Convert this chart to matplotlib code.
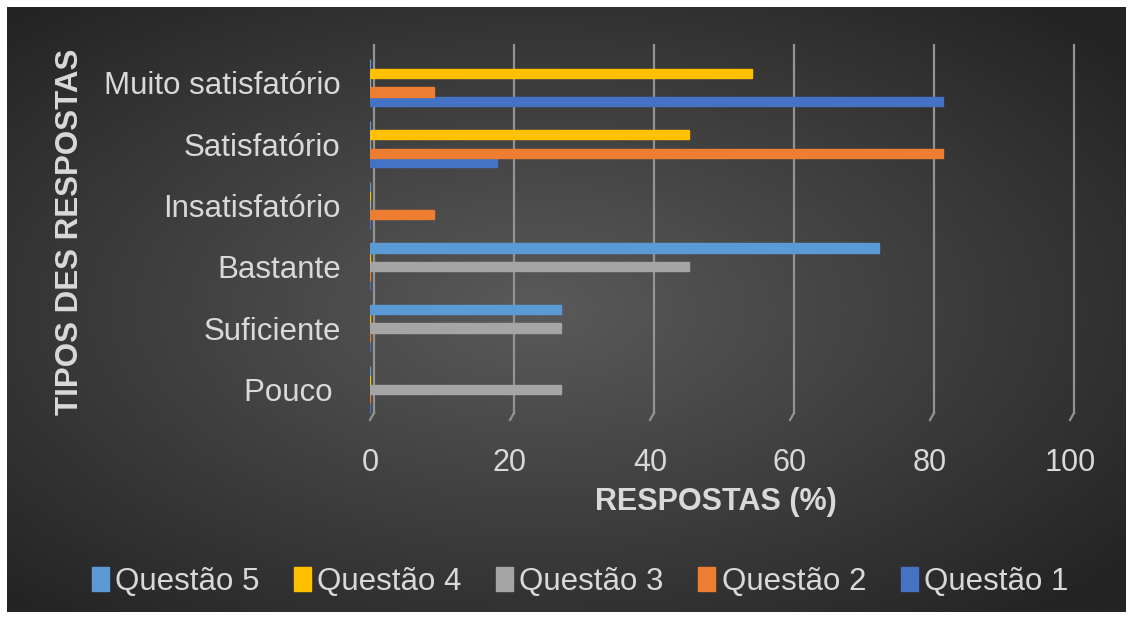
import matplotlib
matplotlib.use('Agg')
import matplotlib.pyplot as plt
import matplotlib.transforms as mtransforms
import numpy as np

plt.rcParams['font.family'] = ['Liberation Sans', 'DejaVu Sans']

# categories from bottom to top
categorias = ['Pouco ', 'Suficiente', 'Bastante', 'Insatisfatório', 'Satisfatório', 'Muito satisfatório']
questao1 = [0, 0, 0, 0, 18.2, 81.8]
questao2 = [0, 0, 0, 9.1, 81.8, 9.1]
questao3 = [27.3, 27.3, 45.5, 0, 0, 0]
questao4 = [0, 0, 0, 0, 45.5, 54.5]
questao5 = [0, 27.3, 72.7, 0, 0, 0]
series = ['Questão 1', 'Questão 2', 'Questão 3', 'Questão 4', 'Questão 5']
cores = ['#4472C4', '#ED7D31', '#A5A5A5', '#FFC000', '#5B9BD5']
xticks = [0, 20, 40, 60, 80, 100]

txt = '#D9D9D9'
gcol = '#939393'
W, H = 1133, 619
fig = plt.figure(figsize=(W / 100, H / 100), dpi=100, facecolor='white')

# dark panel with radial gradient
bg = fig.add_axes([7 / W, 7 / H, 1 - 14 / W, 1 - 14 / H])
gx, gy = np.meshgrid(np.linspace(-1, 1, 400), np.linspace(-1, 1, 220))
r = np.sqrt((gx + 0.05) ** 2 + gy ** 2) / 1.35
r = np.clip(r, 0, 1)
val = 0x5a / 255 * (1 - r) + 0x24 / 255 * r
bg.imshow(np.dstack([val, val, val]), aspect='auto', extent=[0, 1, 0, 1])
bg.axis('off')

ax = fig.add_axes([370 / W, 1 - 420 / H, 700 / W, 368 / H])
ax.patch.set_alpha(0)

y = np.arange(len(categorias))
h = 0.152
dados = [questao1, questao2, questao3, questao4, questao5]
for k, (vals, nome, cor) in enumerate(zip(dados, series, cores)):
    ax.barh(y + (k - 2) * h, vals, height=h, color=cor, edgecolor=cor,
            linewidth=1.0, label=nome, zorder=3)

ax.set_xlim(0, 100)
ylo, yhi = -0.5, len(categorias) - 0.5
ax.set_ylim(ylo, yhi)
ax.set_xticks(xticks)
ax.set_yticks(y)
ax.set_yticklabels(categorias)
ax.tick_params(axis='x', length=0, pad=20, labelsize=22, labelcolor=txt)
ax.tick_params(axis='y', length=0, pad=21, labelsize=22.5, labelcolor=txt)
for s in ['top', 'right', 'bottom', 'left']:
    ax.spines[s].set_visible(False)

# back-wall gridlines (3D look), shifted up/right with a bend at the floor
back = mtransforms.offset_copy(ax.transData, fig=fig, x=4, y=7, units='dots')
for t in xticks:
    ax.plot([t, t], [ylo, yhi], color=gcol, lw=1.6, transform=back, zorder=1, clip_on=False)
    p0 = back.transform((t, ylo))
    p1 = ax.transData.transform((t, ylo))
    inv = ax.transData.inverted()
    a, b = inv.transform(p0), inv.transform(p1)
    ax.plot([a[0], b[0]], [a[1], b[1]], color=gcol, lw=1.6, zorder=1, clip_on=False)

fig.text(716 / W, 1 - 502 / H, 'RESPOSTAS (%)', ha='center', va='center',
         fontsize=22, fontweight='bold', color=txt)
fig.text(70 / W, 1 - 232 / H, 'TIPOS DES RESPOSTAS', ha='center', va='center',
         rotation=90, fontsize=22.5, fontweight='bold', color=txt)

handles, labels = ax.get_legend_handles_labels()
leg = fig.legend(handles[::-1], labels[::-1], loc='center', bbox_to_anchor=(580 / W, 1 - 582 / H),
                 ncol=5, frameon=False, fontsize=22.5, labelcolor=txt,
                 handlelength=0.55, handleheight=0.8, handletextpad=0.2, columnspacing=1.1)

fig.savefig('out.png', dpi=100, facecolor='white')
